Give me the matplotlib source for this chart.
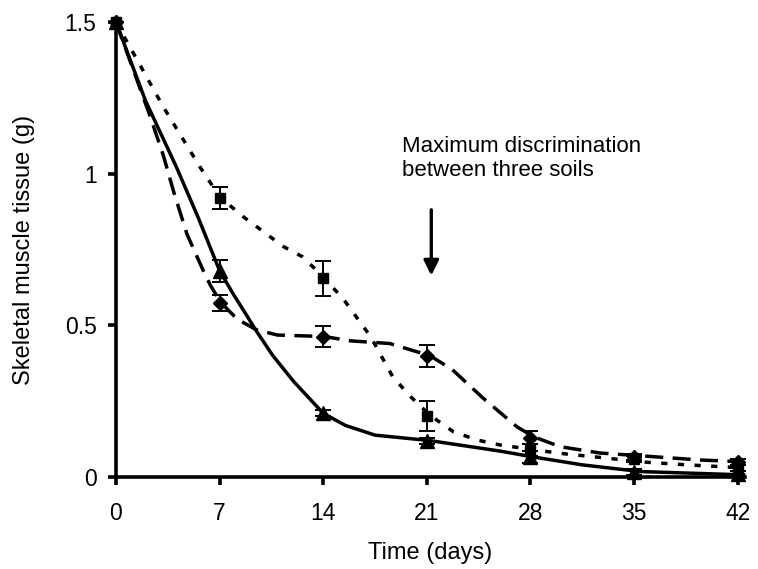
import numpy as np
import matplotlib
matplotlib.use('Agg')
import matplotlib.pyplot as plt

plt.rcParams['font.family'] = ['Liberation Sans', 'DejaVu Sans']

# sampling days and marker values for the three soils
days = [0, 7, 14, 21, 28, 35, 42]
sq_val = [1.5, 0.92, 0.655, 0.20, 0.09, 0.058, 0.03]
sq_err = [0.0, 0.036, 0.057, 0.05, 0.02, 0.01, 0.01]
di_val = [1.5, 0.574, 0.463, 0.40, 0.13, 0.065, 0.05]
di_err = [0.0, 0.027, 0.034, 0.036, 0.02, 0.01, 0.01]
tr_val = [1.5, 0.68, 0.21, 0.12, 0.065, 0.015, 0.01]
tr_err = [0.0, 0.036, 0.01, 0.01, 0.02, 0.01, 0.01]

# fitted curves
sq_cx = [0, 3.2, 5.7, 7.0, 8.6, 11.3, 12.6, 14.0, 15.4, 17.2, 18.7, 19.9, 21.2, 22.8, 24.4, 26.0, 27.5, 30, 33.2, 35.4, 38.6, 42.4]
sq_cy = [1.5, 1.22, 1.02, 0.924, 0.858, 0.76, 0.726, 0.66, 0.584, 0.463, 0.33, 0.265, 0.204, 0.149, 0.122, 0.105, 0.095, 0.078, 0.062, 0.05, 0.04, 0.03]
di_cx = [0, 2.3, 3.2, 3.9, 4.8, 5.9, 6.4, 7.1, 8.2, 9.5, 10.9, 14.1, 15.8, 18.5, 21.2, 22.7, 24.8, 27.1, 28.2, 30, 32.7, 35.4, 39.5, 42.4]
di_cy = [1.5, 1.19, 1.06, 0.94, 0.80, 0.68, 0.63, 0.574, 0.52, 0.485, 0.468, 0.463, 0.449, 0.44, 0.40, 0.355, 0.26, 0.165, 0.133, 0.10, 0.079, 0.07, 0.056, 0.05]
tr_cx = [0, 2.0, 4.1, 5.6, 7.0, 7.9, 8.8, 9.5, 10.6, 12.0, 14.0, 15.5, 17.5, 21.2, 26.0, 28.2, 31.5, 35.4, 42.4]
tr_cy = [1.5, 1.24, 1.02, 0.85, 0.68, 0.605, 0.535, 0.48, 0.40, 0.315, 0.21, 0.17, 0.138, 0.12, 0.085, 0.066, 0.04, 0.018, 0.007]

fig = plt.figure(figsize=(7.58, 5.69), dpi=100)
ax = fig.add_axes([0.153, 0.1617, 0.83, 0.7996])

fs_tick = 16.5
fs_lab = 17
fs_note = 16
lw = 2.5

ax.plot(tr_cx, tr_cy, color='black', lw=lw, solid_joinstyle='round', clip_on=False)
ax.plot(di_cx, di_cy, color='black', lw=lw, dashes=(5.2, 2.7), clip_on=False)
ax.plot(sq_cx, sq_cy, color='black', lw=lw, dashes=(1.8, 3.0), clip_on=False)

for vals, errs, mk, ms in [(sq_val, sq_err, 's', 7.5), (di_val, di_err, 'D', 7), (tr_val, tr_err, '^', 10)]:
    ax.errorbar(days, vals, yerr=errs, fmt=mk, ms=ms, color='black', ecolor='black',
                elinewidth=1.4, capsize=5.5, capthick=1.4, clip_on=False, zorder=3)

ax.set_xlim(0, 42.5)
ax.set_ylim(0, 1.5)
ax.set_xticks(days)
ax.set_yticks([0, 0.5, 1, 1.5])
ax.set_yticklabels(['0', '0.5', '1', '1.5'])
for s in ['top', 'right']:
    ax.spines[s].set_visible(False)
for s in ['left', 'bottom']:
    ax.spines[s].set_linewidth(2.6)
ax.tick_params(axis='both', direction='out', length=6, width=2.6, labelsize=fs_tick)
ax.tick_params(axis='x', pad=12)
ax.tick_params(axis='y', pad=8)

ax.set_xlabel('Time (days)', fontsize=fs_lab)
ax.set_ylabel('Skeletal muscle tissue (g)', fontsize=fs_lab)
ax.xaxis.set_label_coords(0.5, -0.143)
ax.yaxis.set_label_coords(-0.128, 0.5)

ax.text(19.3, 1.05, 'Maximum discrimination\nbetween three soils', fontsize=fs_note,
        ha='left', va='center', linespacing=1.2)
ax.annotate('', xy=(21.3, 0.655), xytext=(21.3, 0.89),
            arrowprops=dict(arrowstyle='-|>,head_length=0.9,head_width=0.45', color='black', lw=2.4))

fig.savefig('out.png', dpi=100)
